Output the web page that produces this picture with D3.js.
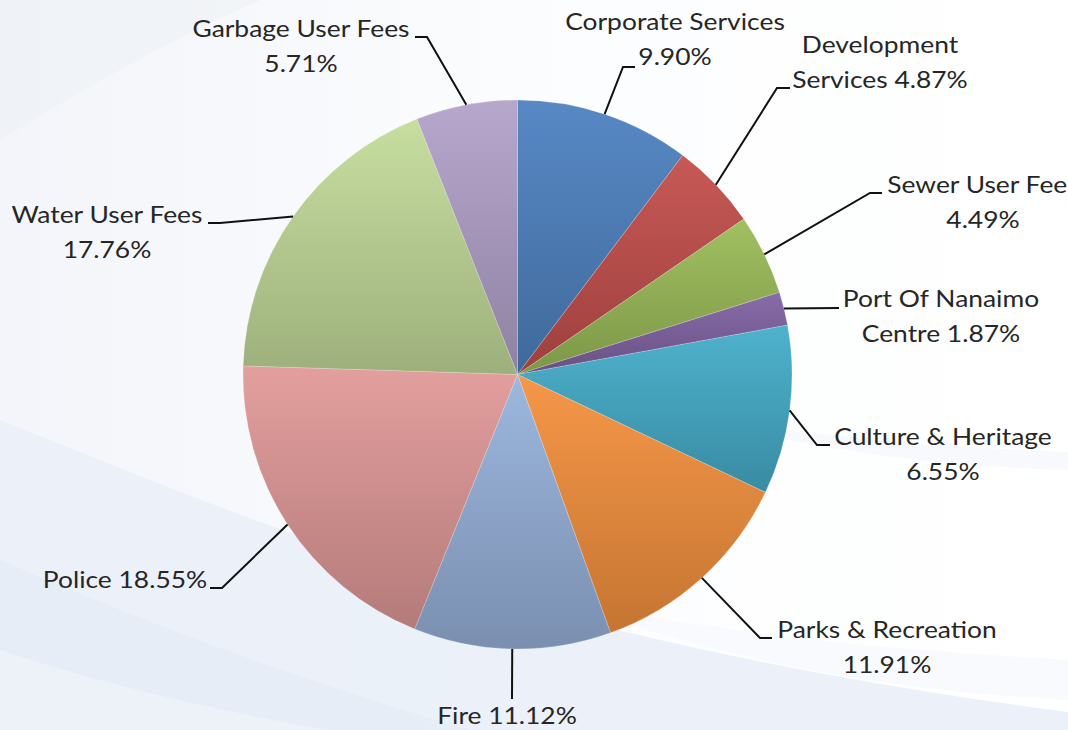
<!DOCTYPE html>
<html>
<head>
<meta charset="utf-8">
<script src="https://cdn.jsdelivr.net/npm/d3@7"></script>
<style>
  html, body { margin: 0; padding: 0; background: #fff; }
  svg { display: block; }
  text { font-family: Lato, "Open Sans", sans-serif; fill: #262626; }
</style>
</head>
<body>
<svg id="chart" width="1068" height="730"></svg>
<script>
// ---- data ----
const categories = ["Corporate Services", "Development Services", "Sewer User Fees", "Port Of Nanaimo Centre",
  "Culture & Heritage", "Parks & Recreation", "Fire", "Police", "Water User Fees", "Garbage User Fees"];
// share of the drawn pie (measured slice angles, %)
const sliceShares = [10.28, 5.14, 4.74, 1.96, 9.94, 12.44, 11.61, 19.39, 18.53, 5.97];
// percentage labels as printed on the chart
const labelPercents = ["9.90%", "4.87%", "4.49%", "1.87%", "6.55%", "11.91%", "11.12%", "18.55%", "17.76%", "5.71%"];
const labelLines = [
  ["Corporate Services", "9.90%"],
  ["Development", "Services 4.87%"],
  ["Sewer User Fees", "4.49%"],
  ["Port Of Nanaimo", "Centre 1.87%"],
  ["Culture & Heritage", "6.55%"],
  ["Parks & Recreation", "11.91%"],
  ["Fire 11.12%"],
  ["Police 18.55%"],
  ["Water User Fees", "17.76%"],
  ["Garbage User Fees", "5.71%"]
];
const sliceColors = ["#4F83C2", "#C4504D", "#9CBD59", "#8264A4", "#46AECA", "#F6923F",
  "#98B3DC", "#E19A99", "#C4DC9B", "#B3A2CA"];

// ---- layout ----
const W = 1068, H = 730;
const cx = 517.5, cy = 374.5, R = 274.5;
// label anchor (centre x, first baseline) and leader elbow / end points
const labelLayout = [
  {x: 675, y: 30,  elbow: [623, 67], end: [635, 67]},
  {x: 880, y: 53,  elbow: [777, 88], end: [790, 88]},
  {x: 983, y: 193, elbow: [870, 193], end: [882, 193]},
  {x: 941, y: 307, elbow: [839, 308], end: [839, 308]},
  {x: 943, y: 445, elbow: [817, 445], end: [830, 445]},
  {x: 887, y: 638, elbow: [760, 638], end: [772, 638]},
  {x: 507, y: 724, elbow: [512, 699], end: [512, 699]},
  {x: 125, y: 588, elbow: [222, 588], end: [210, 588]},
  {x: 107, y: 223, elbow: [220, 223], end: [208, 223]},
  {x: 301, y: 37,  elbow: [427, 37], end: [415, 37]}
];
const lineGap = 35;
const stretch = 1.1;

const svg = d3.select("#chart");
const defs = svg.append("defs");

// ---- background swooshes ----
const bg = defs.append("linearGradient").attr("id", "bgGrad")
  .attr("x1", 0).attr("y1", 0).attr("x2", 1).attr("y2", 0);
bg.append("stop").attr("offset", 0).attr("stop-color", "#F3F5FA");
bg.append("stop").attr("offset", 0.55).attr("stop-color", "#FCFDFE");
bg.append("stop").attr("offset", 1).attr("stop-color", "#FFFFFF");
svg.append("rect").attr("width", W).attr("height", H).attr("fill", "url(#bgGrad)");

svg.append("path").attr("d", "M0,0 L260,0 C170,40 80,90 0,140 Z").attr("fill", "#ECEFF4").attr("opacity", 0.5);
svg.append("path").attr("d", "M0,420 C250,520 520,640 1068,712 L1068,730 L0,730 Z").attr("fill", "#E9EEF8").attr("opacity", 0.85);
svg.append("path").attr("d", "M0,560 C160,630 330,690 470,730 L0,730 Z").attr("fill", "#E3E9F4").attr("opacity", 0.5);
svg.append("path").attr("d", "M0,650 C120,690 240,715 330,730 L0,730 Z").attr("fill", "#F2F5FB").attr("opacity", 0.6);
svg.append("path").attr("d", "M560,600 C760,640 900,650 1068,660 L1068,700 C880,690 720,660 560,600 Z").attr("fill", "#F6F8FC").attr("opacity", 0.7);
svg.append("path").attr("d", "M700,420 C850,440 960,448 1068,452 L1068,470 C930,466 820,450 700,420 Z").attr("fill", "#F5F7FB").attr("opacity", 0.7);

// ---- pie ----
const pie = d3.pie().sort(null).value(d => d)(sliceShares);
const arc = d3.arc().innerRadius(0).outerRadius(R);

pie.forEach((p, i) => {
  const base = d3.rgb(sliceColors[i]);
  const g = defs.append("linearGradient").attr("id", "sg" + i)
    .attr("x1", 0).attr("y1", 0).attr("x2", 0).attr("y2", 1);
  g.append("stop").attr("offset", 0).attr("stop-color", d3.interpolateRgb(base, "#fff")(0.05));
  g.append("stop").attr("offset", 1).attr("stop-color", d3.interpolateRgb(base, "#000")(0.2));
});

const pieG = svg.append("g").attr("transform", `translate(${cx},${cy})`);
pieG.selectAll("path.slice").data(pie).join("path")
  .attr("class", "slice")
  .attr("d", arc)
  .attr("fill", (d, i) => `url(#sg${i})`)
  .attr("stroke", "rgba(255,255,255,0.3)")
  .attr("stroke-width", 0.6);

// ---- leader lines ----
const lineGen = d3.line();
pie.forEach((p, i) => {
  const a = (p.startAngle + p.endAngle) / 2;
  const start = [cx + R * Math.sin(a), cy - R * Math.cos(a)];
  const L = labelLayout[i];
  svg.append("path")
    .attr("d", lineGen([start, L.elbow, L.end]))
    .attr("fill", "none").attr("stroke", "#111").attr("stroke-width", 2);
});

// ---- labels ----
labelLines.forEach((lines, i) => {
  const L = labelLayout[i];
  lines.forEach((t, j) => {
    const txt = svg.append("text")
      .attr("x", L.x).attr("y", L.y + j * lineGap)
      .attr("text-anchor", "middle")
      .attr("font-size", 24)
      .text(t);
    const len = txt.node().getComputedTextLength();
    txt.attr("textLength", len * stretch).attr("lengthAdjust", "spacingAndGlyphs");
  });
});
</script>
</body>
</html>
